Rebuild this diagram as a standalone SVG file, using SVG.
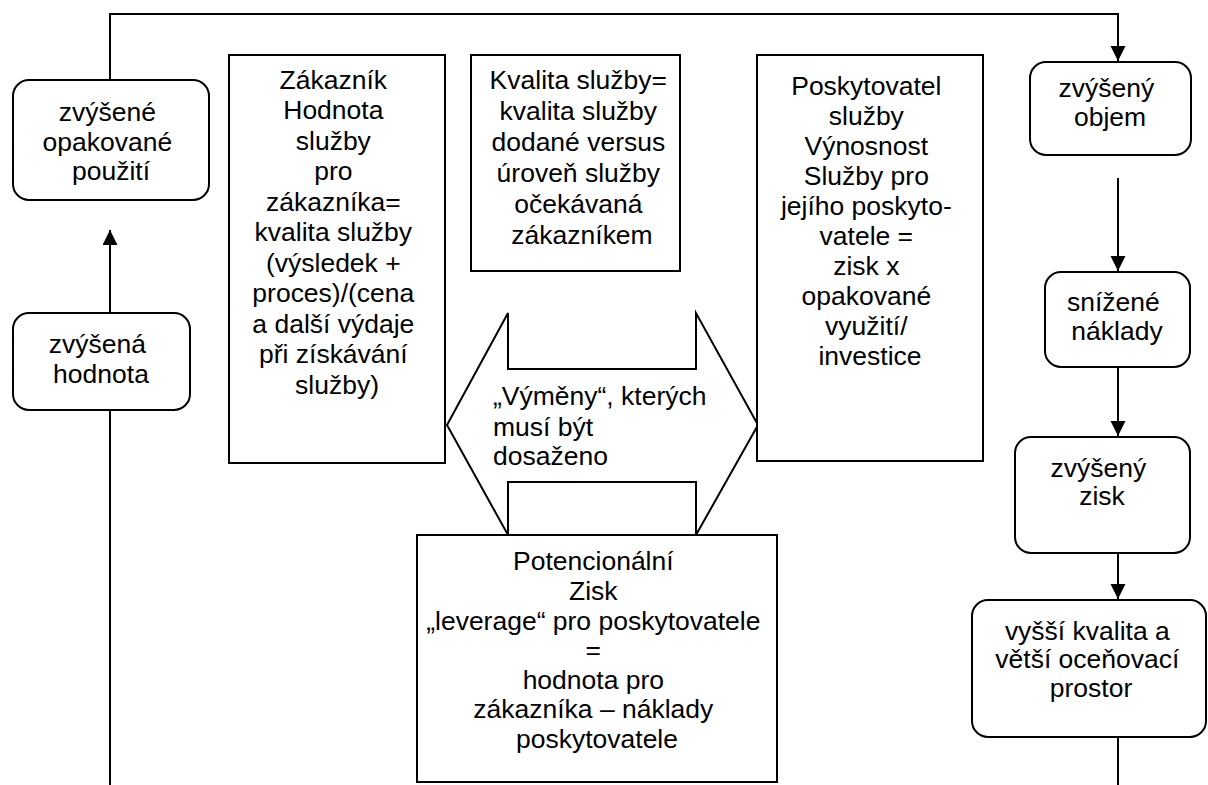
<svg xmlns="http://www.w3.org/2000/svg" width="1208" height="785" viewBox="0 0 1208 785">
  <style>
    .box { fill: #ffffff; stroke: #000000; stroke-width: 2; }
    .line { fill: none; stroke: #000000; stroke-width: 2; }
    .lbl { font-family: "Liberation Sans", Arial, sans-serif; font-size: 25px; fill: #000000; }
    .c { text-anchor: middle; }
  </style>
  <defs>
    <marker id="arrow" markerUnits="userSpaceOnUse" markerWidth="16" markerHeight="16" refX="15" refY="7.5" orient="auto">
      <path d="M0,0 L15,7.5 L0,15 Z" fill="#000000"/>
    </marker>
  </defs>

  <rect width="1208" height="785" fill="#ffffff"/>

  <!-- connectors -->
  <g id="connectors">
    <polyline class="line" points="110,80 110,14 1118,14 1118,61" marker-end="url(#arrow)"/>
    <line class="line" x1="110" y1="785" x2="110" y2="410"/>
    <line class="line" x1="110" y1="313" x2="110" y2="230" marker-end="url(#arrow)"/>
    <line class="line" x1="1118" y1="178" x2="1118" y2="271" marker-end="url(#arrow)"/>
    <line class="line" x1="1118" y1="367" x2="1118" y2="436" marker-end="url(#arrow)"/>
    <line class="line" x1="1118" y1="553" x2="1118" y2="599" marker-end="url(#arrow)"/>
    <line class="line" x1="1118" y1="737" x2="1118" y2="785"/>
  </g>

  <!-- left loop nodes -->
  <g id="node-opakovane">
    <rect class="box" x="13" y="80" width="196" height="120" rx="16"/>
    <text class="lbl c" transform="translate(111,0) scale(1.06,1)">
      <tspan x="0" y="121">zvýšené</tspan>
      <tspan x="0" y="151">opakované</tspan>
      <tspan x="0" y="180">použití</tspan>
    </text>
  </g>

  <g id="node-hodnota">
    <rect class="box" x="13" y="313" width="177" height="97" rx="16"/>
    <text class="lbl c" transform="translate(101,0) scale(1.06,1)">
      <tspan x="0" y="353">zvýšená</tspan>
      <tspan x="0" y="383">hodnota</tspan>
    </text>
  </g>

  <!-- central exchange arrow -->
  <g id="node-vymeny">
    <path class="box" d="M447,425 L508,313 L508,369 L696,369 L696,313 L758,425 L696,535 L696,482 L508,482 L508,535 Z"/>
    <text class="lbl" transform="translate(493,0) scale(1.06,1)">
      <tspan x="0" y="405">„Výměny“, kterých</tspan>
      <tspan x="0" y="436">musí být</tspan>
      <tspan x="0" y="465">dosaženo</tspan>
    </text>
  </g>

  <!-- customer value -->
  <g id="node-zakaznik">
    <rect class="box" x="229" y="55" width="216" height="408"/>
    <text class="lbl c" transform="translate(337,0) scale(1.06,1)">
      <tspan x="0" y="89">Zákazník</tspan>
      <tspan x="0" y="119.5">Hodnota</tspan>
      <tspan x="0" y="150">služby</tspan>
      <tspan x="0" y="180.5">pro</tspan>
      <tspan x="0" y="211">zákazníka=</tspan>
      <tspan x="0" y="241.5">kvalita služby</tspan>
      <tspan x="0" y="272">(výsledek +</tspan>
      <tspan x="0" y="302.5">proces)/(cena</tspan>
      <tspan x="0" y="333">a další výdaje</tspan>
      <tspan x="0" y="363.5">při získávání</tspan>
      <tspan x="0" y="394">služby)</tspan>
    </text>
  </g>

  <!-- service quality -->
  <g id="node-kvalita">
    <rect class="box" x="471" y="55" width="209" height="216"/>
    <text class="lbl c" transform="translate(582,0) scale(1.06,1)">
      <tspan x="0" y="89">Kvalita služby=</tspan>
      <tspan x="0" y="120">kvalita služby</tspan>
      <tspan x="0" y="151">dodané versus</tspan>
      <tspan x="0" y="182">úroveň služby</tspan>
      <tspan x="0" y="213">očekávaná</tspan>
      <tspan x="0" y="244">zákazníkem</tspan>
    </text>
  </g>

  <!-- provider profitability -->
  <g id="node-poskytovatel">
    <rect class="box" x="757" y="55" width="226" height="406"/>
    <text class="lbl c" transform="translate(870,0) scale(1.06,1)">
      <tspan x="0" y="95">Poskytovatel</tspan>
      <tspan x="0" y="125">služby</tspan>
      <tspan x="0" y="155">Výnosnost</tspan>
      <tspan x="0" y="185">Služby pro</tspan>
      <tspan x="0" y="215">jejího poskyto-</tspan>
      <tspan x="0" y="245">vatele =</tspan>
      <tspan x="0" y="275">zisk x</tspan>
      <tspan x="0" y="305">opakované</tspan>
      <tspan x="0" y="335">využití/</tspan>
      <tspan x="0" y="365">investice</tspan>
    </text>
  </g>

  <!-- potential profit -->
  <g id="node-potencial">
    <rect class="box" x="417" y="535" width="360" height="247"/>
    <text class="lbl c" transform="translate(597,0) scale(1.06,1)">
      <tspan x="0" y="570">Potencionální</tspan>
      <tspan x="0" y="600">Zisk</tspan>
      <tspan x="0" y="630">„leverage“ pro poskytovatele</tspan>
      <tspan x="0" y="659">=</tspan>
      <tspan x="0" y="689">hodnota pro</tspan>
      <tspan x="0" y="718">zákazníka – náklady</tspan>
      <tspan x="0" y="748">poskytovatele</tspan>
    </text>
  </g>

  <!-- right chain nodes -->
  <g id="node-objem">
    <rect class="box" x="1030" y="62" width="161" height="93" rx="16"/>
    <text class="lbl c" transform="translate(1110,0) scale(1.06,1)">
      <tspan x="0" y="97">zvýšený</tspan>
      <tspan x="0" y="126">objem</tspan>
    </text>
  </g>

  <g id="node-naklady">
    <rect class="box" x="1045" y="272" width="145" height="95" rx="16"/>
    <text class="lbl c" transform="translate(1117,0) scale(1.06,1)">
      <tspan x="0" y="311">snížené</tspan>
      <tspan x="0" y="340">náklady</tspan>
    </text>
  </g>

  <g id="node-zisk">
    <rect class="box" x="1015" y="437" width="175" height="116" rx="16"/>
    <text class="lbl c" transform="translate(1102,0) scale(1.06,1)">
      <tspan x="0" y="477">zvýšený</tspan>
      <tspan x="0" y="505">zisk</tspan>
    </text>
  </g>

  <g id="node-kvalita-cena">
    <rect class="box" x="972" y="600" width="234" height="137" rx="16"/>
    <text class="lbl c" transform="translate(1091,0) scale(1.06,1)">
      <tspan x="0" y="640">vyšší kvalita a</tspan>
      <tspan x="0" y="668">větší oceňovací</tspan>
      <tspan x="0" y="697">prostor</tspan>
    </text>
  </g>
</svg>
